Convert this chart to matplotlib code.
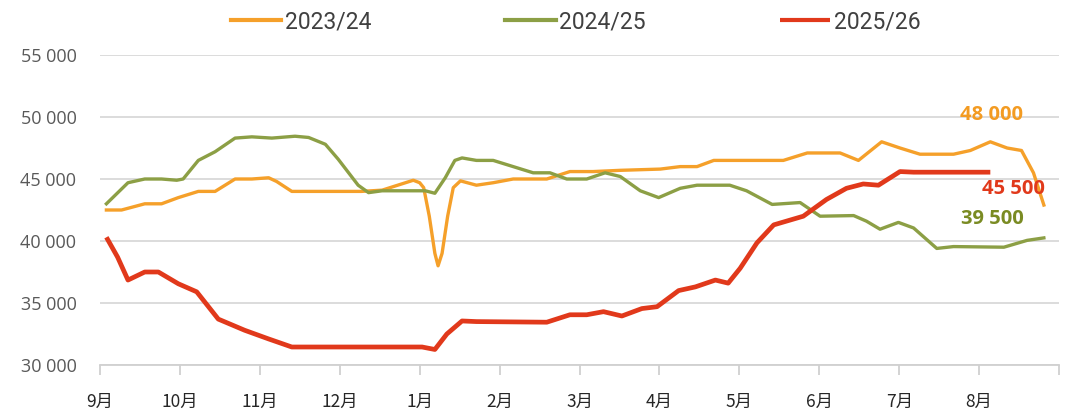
import matplotlib
matplotlib.use('Agg')
import matplotlib.pyplot as plt
from matplotlib.ticker import FuncFormatter

# x = month index from 1 Sept (0) to end of Aug (12)
months = ['9月', '10月', '11月', '12月', '1月', '2月', '3月', '4月', '5月', '6月', '7月', '8月']
series_names = ['2023/24', '2024/25', '2025/26']
end_labels = ['48 000', '39 500', '45 500']

x_2324 = [0.08, 0.27, 0.56, 0.77, 0.98, 1.23, 1.44, 1.69, 1.90, 2.11, 2.21, 2.40, 2.61, 3.27, 3.53,
          3.92, 4.0, 4.05, 4.12, 4.19, 4.23, 4.28, 4.35, 4.42, 4.51, 4.71, 4.92, 5.17, 5.59, 5.88,
          6.17, 6.51, 7.01, 7.26, 7.47, 7.68, 8.55, 8.85, 9.26, 9.49, 9.78, 10.01, 10.26, 10.68,
          10.89, 11.14, 11.35, 11.53, 11.68, 11.81]
y_2324 = [42500, 42500, 43000, 43000, 43500, 44000, 44000, 45000, 45000, 45100, 44800, 44000, 44000,
          44000, 44100, 44900, 44700, 44300, 42000, 39000, 38000, 39000, 42000, 44300, 44850, 44500,
          44700, 45000, 45000, 45600, 45600, 45700, 45800, 46000, 46000, 46500, 46500, 47100, 47100,
          46500, 48000, 47500, 47000, 47000, 47300, 48000, 47500, 47300, 45500, 42900]

x_2425 = [0.08, 0.35, 0.56, 0.77, 0.96, 1.04, 1.23, 1.44, 1.69, 1.90, 2.15, 2.44, 2.61, 2.82, 2.98,
          3.23, 3.36, 3.53, 4.07, 4.19, 4.32, 4.44, 4.53, 4.71, 4.92, 5.17, 5.42, 5.63, 5.84, 6.09,
          6.32, 6.51, 6.76, 6.99, 7.26, 7.47, 7.88, 8.09, 8.41, 8.76, 9.01, 9.43, 9.59, 9.76, 9.99,
          10.18, 10.47, 10.68, 11.31, 11.60, 11.81]
y_2425 = [43000, 44700, 45000, 45000, 44900, 45000, 46500, 47200, 48300, 48400, 48300, 48450, 48350,
          47800, 46600, 44500, 43900, 44050, 44050, 43850, 45100, 46500, 46700, 46500, 46500, 46000,
          45500, 45500, 45000, 45000, 45500, 45200, 44050, 43500, 44250, 44500, 44500, 44050, 42950,
          43100, 42000, 42050, 41600, 40950, 41500, 41050, 39400, 39550, 39500, 40050, 40250]

x_2526 = [0.08, 0.22, 0.35, 0.56, 0.73, 0.98, 1.21, 1.48, 1.81, 2.11, 2.40, 2.86, 4.03, 4.19, 4.34,
          4.53, 4.71, 5.59, 5.88, 6.09, 6.30, 6.53, 6.78, 6.97, 7.24, 7.45, 7.70, 7.86, 8.01, 8.22,
          8.43, 8.80, 9.09, 9.34, 9.55, 9.74, 10.01, 10.18, 11.14]
y_2526 = [40300, 38700, 36850, 37500, 37500, 36550, 35900, 33700, 32800, 32100, 31450, 31450, 31450,
          31250, 32500, 33550, 33500, 33450, 34050, 34050, 34300, 33950, 34550, 34700, 36000, 36300,
          36850, 36600, 37800, 39850, 41300, 42000, 43350, 44250, 44600, 44500, 45600, 45550, 45550]

c_orange = '#F5A02A'
c_green = '#8C9F45'
c_red = '#E1391B'

fig = plt.figure(figsize=(10.8, 4.2), dpi=100)
ax = fig.add_axes([0.0926, 0.131, 0.888, 0.738])

ax.plot(x_2324, y_2324, color=c_orange, lw=2.4, label=series_names[0], solid_joinstyle='round')
ax.plot(x_2425, y_2425, color=c_green, lw=2.4, label=series_names[1], solid_joinstyle='round')
ax.plot(x_2526, y_2526, color=c_red, lw=3.4, label=series_names[2], solid_joinstyle='round',
        solid_capstyle='butt')

ax.set_xlim(0, 12)
ax.set_ylim(30000, 55000)
ax.set_yticks(range(30000, 55001, 5000))
ax.yaxis.set_major_formatter(FuncFormatter(lambda v, p: f'{int(v):,}'.replace(',', ' ')))
ax.grid(axis='y', color='#d9d9d9', lw=1.3)
ax.set_axisbelow(True)
for s in ['top', 'right', 'left']:
    ax.spines[s].set_visible(False)
ax.spines['bottom'].set_color('#d0d0d0')
ax.spines['bottom'].set_linewidth(1.3)
ax.tick_params(axis='y', length=0, pad=17, labelsize=13, labelcolor='#595959')
for lab in ax.get_yticklabels():
    lab.set_family(['Open Sans', 'DejaVu Sans'])

ax.set_xticks(range(0, 13))
ax.set_xticklabels(months + [''], family=['Noto Sans CJK SC', 'DejaVu Sans'], fontsize=12.5,
                   color='#262626')
ax.tick_params(axis='x', length=7, width=1.3, color='#d0d0d0', pad=13)

# end-of-series labels
lab_font = ['Open Sans', 'DejaVu Sans']
ax.text(11.16, 50160, end_labels[0], color='#F39B22', fontsize=14.5, fontweight='bold',
        ha='center', va='center', family=lab_font)
ax.text(11.16, 41775, end_labels[1], color='#7A8B23', fontsize=14.5, fontweight='bold',
        ha='center', va='center', family=lab_font)
ax.text(11.43, 44190, end_labels[2], color=c_red, fontsize=14.5, fontweight='bold',
        ha='center', va='center', family=lab_font)

leg = fig.legend(loc='center', bbox_to_anchor=(0.533, 0.948), ncol=3, frameon=False,
                 handlelength=2.2, handletextpad=0.15, columnspacing=5.85,
                 prop={'family': ['Liberation Sans Narrow', 'Roboto', 'DejaVu Sans'], 'size': 16.5})
for t in leg.get_texts():
    t.set_color('#404040')
for h in leg.legend_handles:
    h.set_linewidth(3)

fig.savefig('out.png', dpi=100)
